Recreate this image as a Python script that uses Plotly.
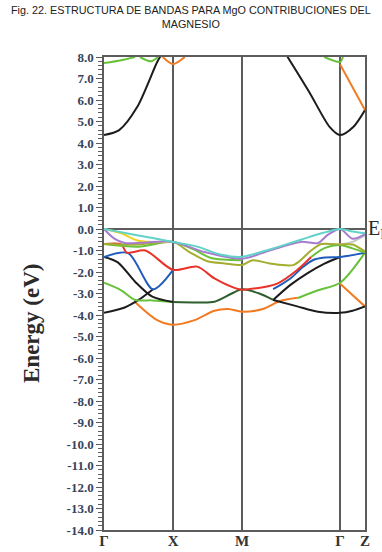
import plotly.graph_objects as go

# high-symmetry points (path coordinate)
kpt_pos = [0.0, 1.0, 2.0, 3.42, 3.78]
kpt_lbl = ["Γ", "X", "M", "Γ", "Z"]

ytick_vals = [8, 7, 6, 5, 4, 3, 2, 1, 0, -1, -2, -3, -4, -5, -6, -7, -8, -9, -10, -11, -12, -13, -14]
ytick_text = ["8.0", "7.0", "6.0", "5.0", "4.0", "3.0", "2.0", "1.0", "0.0", "-1.0", "-2.0", "-3.0",
              "-4.0", "-5.0", "-6.0", "-7.0", "-8.0", "-9.0", "-10.0", "-11.0", "-12.0", "-13.0", "-14.0"]

# band segments
cb_black_gx_k = [0.0, 0.22, 0.48, 0.77, 0.83]
cb_black_gx_e = [4.37, 4.6, 5.67, 7.77, 8.1]
cb_black_mg_k = [2.65, 2.98, 3.27, 3.42, 3.61, 3.78]
cb_black_mg_e = [8.05, 6.33, 4.74, 4.37, 4.74, 5.53]
cb_green1_k = [0.0, 0.25, 0.45]
cb_green1_e = [7.72, 7.85, 8.0]
cb_green2_k = [0.52, 0.68, 0.78]
cb_green2_e = [8.0, 7.8, 8.0]
cb_orange_x_k = [0.85, 1.0, 1.17]
cb_orange_x_e = [8.0, 7.67, 8.0]
cb_green3_k = [3.19, 3.42, 3.46]
cb_green3_e = [8.0, 7.77, 8.0]
cb_orange_gz_k = [3.42, 3.78]
cb_orange_gz_e = [7.65, 5.53]

cyan_k = [0.0, 0.5, 1.0, 1.35, 1.7, 2.0, 2.4, 2.85, 3.15, 3.42, 3.6, 3.78]
cyan_e = [0.0, -0.3, -0.6, -0.82, -1.2, -1.29, -0.95, -0.5, -0.2, 0.0, -0.12, -0.2]
purple_k = [0.0, 0.15, 0.3, 1.0, 1.45, 2.0, 2.4, 2.85, 3.1, 3.25, 3.42, 3.6, 3.78]
purple_e = [0.0, -0.45, -0.65, -0.6, -1.07, -1.38, -1.0, -0.6, -0.65, -0.25, 0.0, -0.45, -0.25]
yellow_k = [0.0, 0.25, 0.5, 1.0]
yellow_e = [0.0, -0.2, -0.55, -0.6]
olive_k = [0.0, 0.5, 1.0, 1.25, 1.5, 1.75, 2.0, 2.15, 2.4, 2.75, 3.0, 3.15, 3.42, 3.6, 3.78]
olive_e = [-0.7, -0.72, -0.6, -1.1, -1.5, -1.6, -1.67, -1.45, -1.6, -1.67, -1.0, -0.7, -0.72, -0.72, -1.05]
green1_k = [0.0, 0.5, 1.0, 1.3, 1.55, 2.0]
green1_e = [-0.7, -0.82, -0.6, -0.95, -1.35, -1.45]
green1b_k = [3.0, 3.2, 3.42, 3.6, 3.78]
green1b_e = [-1.3, -0.88, -0.74, -0.9, -1.1]
grey_k = [3.1, 3.42, 3.6, 3.78]
grey_e = [-0.68, -0.72, -0.6, -0.3]
red_k = [0.0, 0.25, 0.33, 0.6, 1.0, 1.35, 1.6, 1.9, 2.0, 2.5, 2.8, 3.0]
red_e = [-0.7, -0.72, -1.1, -1.0, -1.9, -1.75, -2.3, -2.75, -2.82, -2.55, -1.9, -1.3]
blue_gx_k = [0.0, 0.35, 0.71, 1.0]
blue_gx_e = [-1.3, -1.12, -2.8, -1.9]
blue_mg_k = [2.45, 2.7, 2.88, 3.03, 3.2, 3.42, 3.78]
blue_mg_e = [-2.8, -2.3, -1.77, -1.44, -1.33, -1.3, -1.1]
black1_k = [0.0, 0.2, 0.45, 0.7, 1.0]
black1_e = [-1.3, -1.55, -2.45, -3.15, -3.4]
dkgreen_k = [1.0, 1.4, 1.6, 1.85, 2.0, 2.25, 2.45]
dkgreen_e = [-3.4, -3.42, -3.38, -3.0, -2.8, -3.0, -3.3]
black1b_k = [2.45, 2.7, 2.95, 3.2, 3.42]
black1b_e = [-3.3, -2.6, -2.05, -1.6, -1.3]
black2_k = [0.0, 0.3, 0.5, 0.71]
black2_e = [-3.9, -3.65, -3.3, -2.8]
black2b_k = [2.45, 2.8, 3.1, 3.42, 3.6, 3.78]
black2b_e = [-3.3, -3.6, -3.85, -3.9, -3.8, -3.6]
green2_k = [0.0, 0.25, 0.45, 0.7, 1.0]
green2_e = [-2.5, -2.85, -3.3, -3.32, -3.4]
green2b_k = [2.8, 3.1, 3.42, 3.78]
green2b_e = [-3.22, -2.85, -2.5, -1.1]
orange_k = [0.45, 0.75, 1.0, 1.3, 1.6, 1.8, 2.0, 2.3, 2.55, 2.8]
orange_e = [-3.4, -4.2, -4.45, -4.25, -3.8, -3.72, -3.85, -3.72, -3.35, -3.2]
orange_gz_k = [3.42, 3.78]
orange_gz_e = [-2.55, -3.6]

C_BLACK = "#1c1c1c"
C_CYAN = "#62d2c9"
C_PURPLE = "#a77ccf"
C_YELLOW = "#f2d31b"
C_OLIVE = "#a3ad2e"
C_GREEN = "#67c23a"
C_GREY = "#c8c8c8"
C_RED = "#e8322a"
C_BLUE = "#1f5cbd"
C_DKGREEN = "#2e5e2e"
C_ORANGE = "#f27b22"

segments = [
    (C_BLACK, cb_black_gx_k, cb_black_gx_e),
    (C_BLACK, cb_black_mg_k, cb_black_mg_e),
    (C_GREEN, cb_green1_k, cb_green1_e),
    (C_GREEN, cb_green2_k, cb_green2_e),
    (C_ORANGE, cb_orange_x_k, cb_orange_x_e),
    (C_GREEN, cb_green3_k, cb_green3_e),
    (C_ORANGE, cb_orange_gz_k, cb_orange_gz_e),
    (C_ORANGE, orange_k, orange_e),
    (C_ORANGE, orange_gz_k, orange_gz_e),
    (C_BLACK, black2_k, black2_e),
    (C_BLACK, black2b_k, black2b_e),
    (C_GREEN, green2_k, green2_e),
    (C_GREEN, green2b_k, green2b_e),
    (C_DKGREEN, dkgreen_k, dkgreen_e),
    (C_BLACK, black1_k, black1_e),
    (C_BLACK, black1b_k, black1b_e),
    (C_BLUE, blue_gx_k, blue_gx_e),
    (C_BLUE, blue_mg_k, blue_mg_e),
    (C_RED, red_k, red_e),
    (C_GREY, grey_k, grey_e),
    (C_GREEN, green1_k, green1_e),
    (C_GREEN, green1b_k, green1b_e),
    (C_OLIVE, olive_k, olive_e),
    (C_YELLOW, yellow_k, yellow_e),
    (C_PURPLE, purple_k, purple_e),
    (C_CYAN, cyan_k, cyan_e),
]

fig = go.Figure()
for col, ks, es in segments:
    fig.add_trace(go.Scatter(x=ks, y=es, mode="lines",
                             line=dict(color=col, width=2, shape="spline", smoothing=0.8),
                             showlegend=False, hoverinfo="skip", cliponaxis=True))

AX = "#5c5c5c"
SERIF = "Liberation Serif, Times New Roman, serif"
fig.update_layout(
    width=382, height=552,
    margin=dict(l=104, r=17, t=57, b=22, autoexpand=False),
    paper_bgcolor="white", plot_bgcolor="white",
    xaxis=dict(range=[kpt_pos[0], kpt_pos[-1]], tickmode="array", tickvals=kpt_pos, ticktext=kpt_lbl,
               automargin=False, ticklabelstandoff=-4,
               showgrid=True, gridcolor=AX, gridwidth=1.5, zeroline=False,
               showline=True, linecolor=AX, linewidth=1.5, mirror=True, ticks="",
               tickfont=dict(family=SERIF, size=15, color="#333", weight="bold")),
    yaxis=dict(range=[-14, 8], tickmode="array", tickvals=ytick_vals, ticktext=ytick_text,
               automargin=False,
               showgrid=False, zeroline=True, zerolinecolor=AX, zerolinewidth=2,
               showline=True, linecolor=AX, linewidth=1.5, mirror=True,
               ticks="outside", ticklen=6, tickwidth=1, tickcolor=AX,
               minor=dict(dtick=0.2, ticks="outside", ticklen=4, tickcolor=AX, tickwidth=1),
               tickfont=dict(family=SERIF, size=13, color="#37445c", weight="bold")),
)
# figure caption (centered on the page)
fig.add_annotation(text="Fig. 22. ESTRUCTURA DE BANDAS PARA MgO CONTRIBUCIONES DEL<br>MAGNESIO",
                   xref="paper", yref="paper", x=(191 - 104) / 261, y=(530 - 2) / 473,
                   xanchor="center", yanchor="top", showarrow=False, align="center",
                   font=dict(family="Liberation Sans, Arial", size=10.8, color="#222"))
fig.add_annotation(text="Energy (eV)", textangle=-90, xref="paper", yref="paper",
                   x=(31 - 104) / 261, y=(530 - 324) / 473, xanchor="center", yanchor="middle",
                   showarrow=False,
                   font=dict(family=SERIF, size=23, color="#2a2a2a", weight="bold"))
fig.add_annotation(text="E<sub>F</sub>", xref="paper", yref="y", x=1.0, y=0.0,
                   xanchor="left", yanchor="middle", xshift=1, showarrow=False,
                   font=dict(family=SERIF, size=20, color="#2a2a2a"))

fig.write_html("out.html", config={"displayModeBar": False},
               post_script="document.body.style.margin='0px';")
